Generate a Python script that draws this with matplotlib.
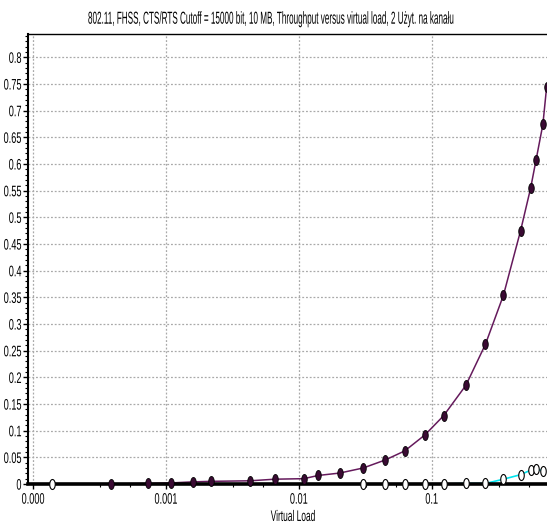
import numpy as np
import matplotlib
matplotlib.use("Agg")
import matplotlib.pyplot as plt
from matplotlib import patheffects
from matplotlib.path import Path
from matplotlib.textpath import TextPath
from matplotlib.font_manager import FontProperties
from matplotlib.ticker import MultipleLocator, LogLocator, NullFormatter
from matplotlib.transforms import Affine2D

# data
load_busy = [0.000386, 0.00073, 0.00109, 0.0016, 0.0022, 0.0043, 0.0066, 0.0109,
             0.014, 0.0203, 0.0305, 0.0447, 0.0627, 0.089, 0.123, 0.181, 0.254,
             0.347, 0.467, 0.556, 0.61, 0.687, 0.733]
thr_busy = [0.0, 0.001, 0.002, 0.004, 0.005, 0.006, 0.009, 0.010, 0.016, 0.0205,
            0.030, 0.045, 0.062, 0.092, 0.128, 0.185, 0.262, 0.354, 0.475, 0.555,
            0.607, 0.674, 0.744]

load_free = [0.000138, 0.0305, 0.0447, 0.0627, 0.089, 0.123, 0.181, 0.254, 0.347,
             0.467, 0.556, 0.61, 0.687]
thr_free = [0.0, 0.0, 0.0, 0.0, 0.0, 0.0, 0.001, 0.001, 0.009, 0.0175, 0.026,
            0.0275, 0.025]

x_ticks = [0.0001, 0.001, 0.01, 0.1]
x_labels = ["0.000", "0.001", "0.01", "0.1"]
y_ticks = [0, 0.05, 0.1, 0.15, 0.2, 0.25, 0.3, 0.35, 0.4, 0.45, 0.5, 0.55, 0.6,
           0.65, 0.7, 0.75, 0.8]
y_labels = ["0", "0.05", "0.1", "0.15", "0.2", "0.25", "0.3", "0.35", "0.4", "0.45",
            "0.5", "0.55", "0.6", "0.65", "0.7", "0.75", "0.8"]

title = ("802.11, FHSS, CTS/RTS Cutoff = 15000 bit, 10 MB, Throughput versus "
         "virtual load, 2 Użyt. na kanału")
FONT = "Liberation Sans"
DPI = 100


class Squeeze(patheffects.AbstractPathEffect):
    """draw text with another aspect, keeping its anchor point fixed"""

    def __init__(self, sx, sy=1.0, h="center", v="center"):
        super().__init__()
        self.sx, self.sy, self.h, self.v = sx, sy, h, v

    def draw_path(self, renderer, gc, tpath, affine, rgbFace=None):
        bb = tpath.get_extents(affine)
        px = {"left": bb.x0, "right": bb.x1, "center": 0.5 * (bb.x0 + bb.x1)}[self.h]
        py = {"bottom": bb.y0, "top": bb.y1, "center": 0.5 * (bb.y0 + bb.y1)}[self.v]
        sq = Affine2D().translate(-px, -py).scale(self.sx, self.sy).translate(px, py)
        renderer.draw_path(gc, tpath, affine + sq, rgbFace)


def text_px(text, size):
    w = TextPath((0, 0), text, size=size, prop=FontProperties(family=FONT)).get_extents().width
    return w * DPI / 72.0


# tall narrow ellipse marker
t = np.linspace(0, 2 * np.pi, 41)
ellipse = Path(np.column_stack([0.55 * np.cos(t), np.sin(t)]), closed=True)

fig = plt.figure(figsize=(5.47, 5.26), dpi=DPI)
W, H = 547, 526
ax = fig.add_axes([27.7 / W, (H - 484) / H, 1 - 27.7 / W, (484 - 34.3) / H])

# lines under the thick x axis, markers above it
ax.plot(load_free, thr_free, color="#00e5ee", lw=1.2, clip_on=False, zorder=2)
ax.plot(load_busy, thr_busy, color="#651a5c", lw=1.1, clip_on=False, zorder=2.2)
ax.plot(load_free, thr_free, ls="none", marker=ellipse, ms=7.2,
        mfc="white", mec="black", mew=0.8, clip_on=False, zorder=4)
ax.plot(load_busy, thr_busy, ls="none", marker=ellipse, ms=7.2,
        mfc="#3a0a33", mec="black", mew=0.6, clip_on=False, zorder=4.2)

ax.set_xscale("log")
ax.set_xlim(10 ** -4.04, 10 ** -0.132)
ax.set_ylim(0, 0.843)

ax.set_xticks(x_ticks, x_labels)
ax.xaxis.set_minor_locator(LogLocator(base=10, subs=(3.2, 5.4)))
ax.xaxis.set_minor_formatter(NullFormatter())
ax.set_yticks(y_ticks, y_labels)
ax.yaxis.set_minor_locator(MultipleLocator(0.01))

LBL = 6.5  # nominal size, stretched to look like ~10pt condensed
ax.tick_params(axis="both", which="major", length=3.5, width=1, direction="out",
               labelsize=LBL, pad=2.5)
ax.tick_params(axis="both", which="minor", length=2, width=0.8, direction="out")
ax.tick_params(axis="y", pad=1.0)

ax.grid(True, which="major", color="#a9a9a9", linestyle=(0, (1.5, 1.5)), lw=0.9)
ax.set_axisbelow(True)

ax.spines["right"].set_visible(False)
ax.spines["left"].set_linewidth(1.5)
ax.spines["top"].set_linewidth(1.0)
ax.spines["bottom"].set_linewidth(2.6)
ax.spines["bottom"].set_zorder(3)

st = 11 / LBL
for lab in ax.get_xticklabels():
    lab.set_family(FONT)
    lab.set_path_effects([Squeeze(0.6 * st, st, "center", "top")])
for lab in ax.get_yticklabels():
    lab.set_family(FONT)
    lab.set_path_effects([Squeeze(0.6 * st, st, "right", "center")])

TS = 8
tst = 12.5 / TS
fig.text(272 / W, 1 - 25 / H, title, ha="center", va="baseline", fontsize=TS,
         family=FONT,
         path_effects=[Squeeze(365 / text_px(title, TS), tst, "center", "bottom")])
XS = 7
xst = 11 / XS
fig.text(293 / W, 1 - 521 / H, "Virtual Load", ha="center", va="baseline",
         fontsize=XS, family=FONT,
         path_effects=[Squeeze(44 / text_px("Virtual Load", XS), xst, "center", "bottom")])

fig.savefig("out.png", dpi=DPI)
